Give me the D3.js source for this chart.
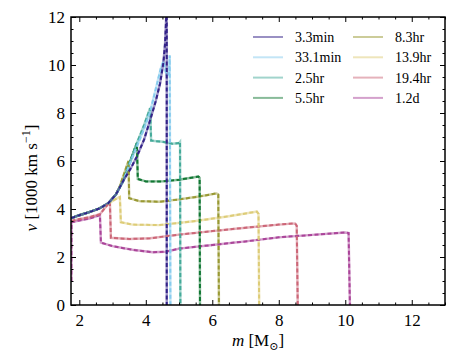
<!DOCTYPE html>
<html>
<head>
<meta charset="utf-8">
<style>
  body { margin: 0; background: #fff; }
  text { font-family: "Liberation Serif", "DejaVu Serif", serif; }
</style>
</head>
<body>
<script src="https://d3js.org/d3.v7.min.js"></script>
<script>
  // velocity profiles v(m): [m in Msun, v in 1000 km/s]
  const labels = ['3.3min', '33.1min', '2.5hr', '5.5hr', '8.3hr', '13.9hr', '19.4hr', '1.2d']
  const colors = ['#332288', '#88CCEE', '#44AA99', '#117733', '#999933', '#DDCC77', '#CC6677', '#AA4499']

  const t_3_3min = [[1.76, 3.62], [2.0, 3.74], [2.3, 3.87], [2.6, 4.02], [2.87, 4.24], [3.1, 4.6], [3.33, 5.2],
    [3.55, 5.7], [3.73, 6.18], [3.95, 6.9], [4.13, 7.7], [4.3, 8.5], [4.43, 9.24], [4.53, 10.1], [4.58, 10.9],
    [4.62, 12.2], [4.63, 12.6], [4.63, 0]]
  const t_33_1min = [[1.76, 3.62], [2.0, 3.74], [2.3, 3.87], [2.6, 4.02], [2.87, 4.24], [3.1, 4.6], [3.33, 5.2],
    [3.48, 5.75], [3.73, 6.6], [3.95, 7.35], [4.13, 8.05], [4.3, 9.0], [4.45, 9.85], [4.53, 10.15], [4.62, 9.6],
    [4.7, 9.6], [4.72, 10.4], [4.74, 0]]
  const t_2_5hr = [[1.76, 3.62], [2.0, 3.74], [2.3, 3.87], [2.6, 4.02], [2.87, 4.24], [3.1, 4.6], [3.33, 5.2],
    [3.48, 5.8], [3.73, 6.74], [3.95, 7.5], [4.13, 8.2], [4.16, 6.85], [4.5, 6.8], [4.8, 6.72], [5.0, 6.75],
    [5.03, 6.8], [5.04, 0]]
  const t_5_5hr = [[1.76, 3.62], [2.0, 3.74], [2.3, 3.87], [2.6, 4.02], [2.87, 4.24], [3.1, 4.6], [3.33, 5.2],
    [3.48, 5.8], [3.73, 6.74], [3.76, 5.25], [4.0, 5.15], [4.5, 5.15], [5.0, 5.22], [5.58, 5.35], [5.62, 5.3],
    [5.63, 0]]
  const t_8_3hr = [[1.76, 3.62], [2.0, 3.74], [2.3, 3.87], [2.6, 4.02], [2.87, 4.24], [3.1, 4.6], [3.22, 4.95],
    [3.48, 6.0], [3.5, 4.45], [3.8, 4.33], [4.4, 4.3], [5.0, 4.4], [5.6, 4.52], [6.13, 4.65], [6.18, 4.6],
    [6.2, 0]]
  const t_13_9hr = [[1.76, 3.62], [2.0, 3.74], [2.3, 3.87], [2.6, 4.02], [2.87, 4.22], [3.05, 4.38], [3.22, 4.5],
    [3.25, 3.45], [3.6, 3.35], [4.4, 3.33], [5.5, 3.5], [6.5, 3.7], [7.34, 3.89], [7.39, 3.8], [7.41, 0]]
  const t_19_4hr = [[1.76, 3.5], [2.0, 3.58], [2.3, 3.66], [2.62, 3.78], [2.92, 4.3], [2.95, 2.8], [3.5, 2.75],
    [4.13, 2.78], [5.0, 2.93], [6.0, 3.08], [7.0, 3.22], [8.0, 3.35], [8.49, 3.4], [8.54, 3.3], [8.57, 0]]
  const t_1_2d = [[1.76, 1.0], [1.765, 3.45], [2.0, 3.52], [2.3, 3.6], [2.62, 3.75], [2.65, 2.6], [3.0, 2.45],
    [3.6, 2.3], [4.2, 2.2], [4.6, 2.22], [5.0, 2.35], [6.0, 2.5], [7.0, 2.65], [8.0, 2.82], [9.0, 2.92],
    [10.0, 3.02], [10.1, 3.0], [10.14, 0]]

  const profiles = [t_3_3min, t_33_1min, t_2_5hr, t_5_5hr, t_8_3hr, t_13_9hr, t_19_4hr, t_1_2d]

  const xMajor = [2, 4, 6, 8, 10, 12]
  const yMajor = [0, 2, 4, 6, 8, 10, 12]

  const width = 468
  const height = 351
  const pLeft = 71, pRight = 445, pTop = 17, pBottom = 305

  const svg = d3.select('body').append('svg')
    .attr('width', width)
    .attr('height', height)

  const x = d3.scaleLinear().domain([1.75, 13]).range([pLeft, pRight])
  const y = d3.scaleLinear().domain([0, 12]).range([pBottom, pTop])

  svg.append('clipPath').attr('id', 'plot')
    .append('rect')
    .attr('x', pLeft).attr('y', pTop)
    .attr('width', pRight - pLeft).attr('height', pBottom - pTop)

  // curves: light solid under a darker dashed copy (earliest time on top)
  const line = d3.line().x(d => x(d[0])).y(d => y(d[1]))
  const curves = svg.append('g').attr('clip-path', 'url(#plot)')
  const order = d3.range(profiles.length).reverse()
  order.forEach(i => {
    curves.append('path')
      .attr('d', line(profiles[i]))
      .attr('fill', 'none')
      .attr('stroke', colors[i])
      .attr('stroke-opacity', 0.5)
      .attr('stroke-width', 2.4)
  })
  order.forEach(i => {
    curves.append('path')
      .attr('d', line(profiles[i]))
      .attr('fill', 'none')
      .attr('stroke', colors[i])
      .attr('stroke-width', 2)
      .attr('stroke-dasharray', '4,2.5')
  })

  // ticks on all four sides, pointing in
  const xMinor = d3.range(2, 13.01, 0.5).filter(v => v % 2 !== 0)
  const yMinor = d3.range(0, 12.01, 0.5).filter(v => v % 2 !== 0)

  function styleAxis(g) {
    g.select('.domain').remove()
    g.selectAll('line').attr('stroke', '#000').attr('stroke-width', 1)
    g.selectAll('text').attr('font-size', 17).attr('fill', '#000')
  }

  svg.append('g').attr('transform', `translate(0,${pBottom})`)
    .call(d3.axisBottom(x).tickValues(xMajor).tickSize(-5).tickPadding(9).tickFormat(d3.format('d')))
    .call(styleAxis)
  svg.append('g').attr('transform', `translate(0,${pBottom})`)
    .call(d3.axisBottom(x).tickValues(xMinor).tickSize(-2.5).tickFormat(''))
    .call(styleAxis)
  svg.append('g').attr('transform', `translate(0,${pTop})`)
    .call(d3.axisTop(x).tickValues(xMajor).tickSize(-5).tickFormat(''))
    .call(styleAxis)
  svg.append('g').attr('transform', `translate(0,${pTop})`)
    .call(d3.axisTop(x).tickValues(xMinor).tickSize(-2.5).tickFormat(''))
    .call(styleAxis)

  svg.append('g').attr('transform', `translate(${pLeft},0)`)
    .call(d3.axisLeft(y).tickValues(yMajor).tickSize(-5).tickPadding(6).tickFormat(d3.format('d')))
    .call(styleAxis)
  svg.append('g').attr('transform', `translate(${pLeft},0)`)
    .call(d3.axisLeft(y).tickValues(yMinor).tickSize(-2.5).tickFormat(''))
    .call(styleAxis)
  svg.append('g').attr('transform', `translate(${pRight},0)`)
    .call(d3.axisRight(y).tickValues(yMajor).tickSize(-5).tickFormat(''))
    .call(styleAxis)
  svg.append('g').attr('transform', `translate(${pRight},0)`)
    .call(d3.axisRight(y).tickValues(yMinor).tickSize(-2.5).tickFormat(''))
    .call(styleAxis)

  // frame
  svg.append('rect')
    .attr('x', pLeft).attr('y', pTop)
    .attr('width', pRight - pLeft).attr('height', pBottom - pTop)
    .attr('fill', 'none')
    .attr('stroke', '#000')
    .attr('stroke-width', 1.5)

  // axis labels
  const xl = svg.append('text')
    .attr('x', (pLeft + pRight) / 2)
    .attr('y', 346)
    .attr('text-anchor', 'middle')
    .attr('font-size', 17)
  xl.append('tspan').attr('font-style', 'italic').text('m')
  xl.append('tspan').text(' [M')
  xl.append('tspan').attr('font-size', 11).attr('dy', 4).text('\u2299')
  xl.append('tspan').attr('dy', -4).text(']')

  const yl = svg.append('text')
    .attr('transform', `translate(37,${(pTop + pBottom) / 2 + 17}) rotate(-90)`)
    .attr('text-anchor', 'middle')
    .attr('font-size', 17)
  yl.append('tspan').attr('font-style', 'italic').text('v')
  yl.append('tspan').text(' [1000 km s')
  yl.append('tspan').attr('font-size', 12).attr('dy', -7).text('\u22121')
  yl.append('tspan').attr('dy', 7).text(']')

  // legend, two columns of four
  const legend = svg.append('g')
  labels.forEach((name, i) => {
    const col = Math.floor(i / 4)
    const row = i % 4
    const lx = 253 + col * 100
    const ly = 37 + row * 20.3
    legend.append('line')
      .attr('x1', lx).attr('x2', lx + 30)
      .attr('y1', ly).attr('y2', ly)
      .attr('stroke', colors[i])
      .attr('stroke-opacity', 0.5)
      .attr('stroke-width', 2)
    legend.append('text')
      .attr('x', lx + 42)
      .attr('y', ly + 5)
      .attr('font-size', 14)
      .text(name)
  })
</script>
</body>
</html>
